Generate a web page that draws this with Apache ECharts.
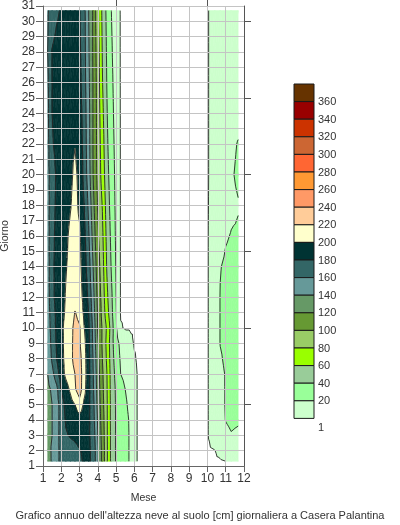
<!DOCTYPE html>
<html>
<head>
<meta charset="utf-8">
<script src="https://cdn.jsdelivr.net/npm/echarts@6/dist/echarts.min.js"></script>
<style>
html, body { margin: 0; padding: 0; background: #fff; }
#chart { width: 400px; height: 525px; }
</style>
</head>
<body>
<div id="chart"></div>
<script>
// grid of snow depth (cm): columns = month position, rows = day of month
var months = [1.26, 1.5, 1.75, 2, 2.25, 2.5, 2.75, 3, 3.25, 3.5, 3.75, 4, 4.25, 4.5, 4.75, 5, 5.25, 5.5, 5.75, 6, 6.15, 6.3, 9.95, 10.1, 10.4, 10.7, 11, 11.3, 11.68];
var days = [1.31, 2, 3, 4, 5, 6, 7, 8, 9, 10, 11, 12, 14, 16, 18, 20, 22, 24, 26, 28, 30.7];
var depth = [
  [130, 142.9, 157.1, 163, 167, 171, 175, 177, 182, 183.5, 174.1, 142.7, 114.4, 82.9, 52.9, 38.2, 31.9, 25.6, 18.7, 7.6, 1, 0, 0, 0, 0, 0, 1, 6, 8],
  [132, 143, 157, 163, 167, 171, 175, 179, 183, 183.5, 174, 143, 114, 83, 53, 38, 32, 25.6, 18.7, 7.6, 1, 0, 0, 0, 0.8, 4, 8, 10, 10],
  [134, 140, 154, 167, 178, 182, 184, 186, 186, 183, 170.5, 140, 111.6, 82.5, 53, 38, 32, 25.6, 18.7, 7.6, 1, 0, 0, 1.6, 7, 12, 16, 19, 17],
  [134, 140, 152.5, 168, 182, 186, 190, 192, 190, 184, 167, 137.6, 109.5, 82.2, 52.4, 38.2, 31.8, 25.4, 18.3, 7.5, 1, 0, 0, 1.6, 8, 14, 20.5, 23, 22],
  [134, 140, 151, 170, 185.7, 193, 200, 212, 196.3, 184.7, 165, 134, 107, 82, 52.4, 38, 30.7, 23.5, 15.3, 6.4, 1, 0, 0, 1.6, 9, 15, 21, 24, 24],
  [136, 142.5, 155, 182, 192, 203, 218.2, 230, 206.7, 185.7, 162.1, 131.8, 105, 81, 51.7, 37.2, 28.6, 20, 12.7, 5.4, 1, 0, 0, 1.6, 9, 15, 21, 24, 24],
  [140, 154, 172, 191, 204, 212, 220, 229.5, 209.2, 186, 160, 129.4, 103, 80, 50.7, 34.3, 20, 14.7, 9.4, 4.2, 1, 0, 0, 1.6, 9, 16, 21, 23, 23],
  [146, 163, 180, 194, 205.5, 214.5, 226.5, 226.8, 208, 185.7, 158.7, 126.3, 100, 76.7, 48.9, 30.7, 17.9, 12.7, 7.5, 2.2, 0, 0, 0, 1.6, 10, 18, 23, 24, 24],
  [148, 165.7, 182.5, 195, 205.7, 215, 225.5, 222.5, 205.7, 184.5, 156, 122.7, 97.6, 74.5, 47.4, 27, 15.7, 10.3, 4.9, 0, 0, 0, 0, 1.6, 10, 20.5, 24, 24, 24],
  [150, 168, 184, 196, 205, 213, 226, 222, 201, 183, 155, 118, 98, 77, 50, 22, 2, 0, 0, 0, 0, 0, 0, 1.6, 10, 20.5, 23, 24, 24],
  [150, 172, 184, 195, 202, 208, 221, 214, 196, 180, 150, 117, 94, 68, 45, 21, 0, 0, 0, 0, 0, 0, 0, 1.6, 10, 20.5, 23, 24, 24],
  [152, 175, 186, 194, 201, 206, 212, 208, 194, 176, 146, 114, 92, 64, 43, 20, 0, 0, 0, 0, 0, 0, 0, 1.6, 10, 20.5, 23, 24, 24],
  [152, 176, 186, 193, 199, 204, 209, 205, 190, 169, 139, 109, 88, 58, 38, 18.5, 0, 0, 0, 0, 0, 0, 0, 1.6, 10, 19.5, 22, 23, 23],
  [153, 175, 185, 191, 197, 203, 208, 203, 186, 162, 132, 103, 84, 54, 35, 17, 0, 0, 0, 0, 0, 0, 0, 1.6, 9, 15, 19, 20.5, 21],
  [154, 172, 184, 189, 194, 199, 206, 196, 180.5, 156, 125, 98, 79, 50, 32, 16, 0, 0, 0, 0, 0, 0, 0, 1.4, 8, 13, 16, 18, 19.5],
  [155, 170, 183, 187, 192, 197, 203, 196, 174, 149, 119, 94, 72, 46, 30, 15, 0, 0, 0, 0, 0, 0, 0, 1.3, 8, 12, 15, 19, 21.5],
  [155, 178, 186, 190, 193, 197, 199.5, 193, 172, 147, 118, 93, 69, 43, 28, 13.5, 0, 0, 0, 0, 0, 0, 0, 1.3, 8, 12, 15, 18, 20.5],
  [156, 180, 187, 191, 193, 196, 198, 190, 170, 146, 118, 92, 65, 41, 26, 12, 0, 0, 0, 0, 0, 0, 0, 1.3, 7, 12, 14, 16, 17],
  [157, 180, 187, 190, 192, 194, 195, 186, 168, 144, 118, 91, 61, 39, 24, 11, 0, 0, 0, 0, 0, 0, 0, 1.3, 7, 11, 13, 14, 14],
  [160, 181, 186, 189, 191, 193, 193, 184, 167, 142, 117, 89, 59, 37.5, 22, 10, 0, 0, 0, 0, 0, 0, 0, 1.3, 6, 10, 12, 13, 13],
  [158, 170, 177, 182, 186, 188, 187, 181, 166, 140, 117, 85, 56, 35, 19.6, 9.3, 0, 0, 0, 0, 0, 0, 0, 1.3, 6, 10, 12, 13, 13]
];
var levels = [1, 20, 40, 60, 80, 100, 120, 140, 160, 180, 200, 220, 240, 260, 280, 300, 320, 340, 360];
var bandColors = ['#CCFFCC', '#99FF99', '#99CC99', '#99FF00', '#99CC66', '#669933', '#669966', '#669999', '#336666', '#003333',
  '#FFFFCC', '#FFCC99', '#FF9966', '#FF9933', '#FF6633', '#CC6633', '#CC3300', '#990000', '#663300'];
var monthTicks = [1, 2, 3, 4, 5, 6, 7, 8, 9, 10, 11, 12];

var font = 'Liberation Sans, Arial, sans-serif';
var chart = echarts.init(document.getElementById('chart'));

var cells = [];
for (var j = 0; j < days.length - 1; j++) {
  for (var i = 0; i < months.length - 1; i++) {
    cells.push([(months[i] + months[i + 1]) / 2, (days[j] + days[j + 1]) / 2, i, j]);
  }
}

// split a grid cell into 4 triangles around its centre (pixel coords + value)
function cellTriangles(api) {
  var i = api.value(2), j = api.value(3);
  var corners = [[i, j], [i + 1, j], [i + 1, j + 1], [i, j + 1]].map(function (c) {
    var p = api.coord([months[c[0]], days[c[1]]]);
    return [p[0], p[1], depth[c[1]][c[0]]];
  });
  var c = [0, 0, 0];
  corners.forEach(function (p) { c[0] += p[0] / 4; c[1] += p[1] / 4; c[2] += p[2] / 4; });
  var tris = [];
  for (var k = 0; k < 4; k++) tris.push([corners[k], corners[(k + 1) % 4], c]);
  return tris;
}

function clip(poly, level, above) {
  var out = [];
  for (var k = 0; k < poly.length; k++) {
    var a = poly[k], b = poly[(k + 1) % poly.length];
    var ina = above ? a[2] >= level : a[2] <= level;
    var inb = above ? b[2] >= level : b[2] <= level;
    if (ina) out.push(a);
    if (ina !== inb) {
      var t = (level - a[2]) / (b[2] - a[2]);
      out.push([a[0] + t * (b[0] - a[0]), a[1] + t * (b[1] - a[1]), level]);
    }
  }
  return out;
}

function renderFill(params, api) {
  var children = [];
  cellTriangles(api).forEach(function (tri) {
    var vs = tri.map(function (p) { return p[2]; });
    var vmin = Math.min.apply(null, vs), vmax = Math.max.apply(null, vs);
    for (var b = 0; b < levels.length; b++) {
      var lo = levels[b], hi = b + 1 < levels.length ? levels[b + 1] : Infinity;
      if (vmax < lo || vmin >= hi) continue;
      var poly = clip(tri, lo, true);
      if (hi !== Infinity) poly = clip(poly, hi, false);
      if (poly.length < 3) continue;
      children.push({
        type: 'polygon',
        shape: { points: poly.map(function (p) { return [p[0], p[1]]; }) },
        style: { fill: bandColors[b], stroke: bandColors[b], lineWidth: 0.6 }
      });
    }
  });
  return { type: 'group', children: children };
}

function renderLines(params, api) {
  var children = [];
  cellTriangles(api).forEach(function (tri) {
    levels.forEach(function (L) {
      var pts = [];
      for (var k = 0; k < 3; k++) {
        var a = tri[k], b = tri[(k + 1) % 3];
        if ((a[2] >= L) !== (b[2] >= L)) {
          var t = (L - a[2]) / (b[2] - a[2]);
          pts.push([a[0] + t * (b[0] - a[0]), a[1] + t * (b[1] - a[1])]);
        }
      }
      if (pts.length === 2) {
        children.push({
          type: 'line',
          shape: { x1: pts[0][0], y1: pts[0][1], x2: pts[1][0], y2: pts[1][1] },
          style: { stroke: '#262626', lineWidth: 0.9 }
        });
      }
    });
  });
  return { type: 'group', children: children };
}

// legend: swatches top (highest) to bottom, labels on the boundaries
var legendX = 294, legendTop = 84, swatchW = 20, swatchH = 17.6;
var legend = [];
for (var n = 0; n < bandColors.length; n++) {
  legend.push({
    type: 'rect',
    shape: { x: legendX, y: legendTop + n * swatchH, width: swatchW, height: swatchH },
    style: { fill: bandColors[bandColors.length - 1 - n], stroke: '#1a1a1a', lineWidth: 1 }
  });
}
for (var m = 0; m < levels.length; m++) {
  var lv = levels[levels.length - 1 - m];
  var y = legendTop + (m + 1) * swatchH + (m === levels.length - 1 ? 9.5 : 0.5);
  legend.push({
    type: 'text',
    x: legendX + swatchW + 4, y: y,
    style: { text: String(lv), font: '11px ' + font, fill: '#333', verticalAlign: 'middle' }
  });
}

var option = {
  animation: false,
  backgroundColor: '#fff',
  title: {
    text: "Grafico annuo dell'altezza neve al suolo [cm] giornaliera a Casera Palantina",
    left: 'center', top: 505,
    textStyle: { fontSize: 11, fontWeight: 'normal', color: '#333', fontFamily: font }
  },
  grid: { left: 43, right: 156, top: 6, bottom: 59, outerBoundsMode: 'none' },
  xAxis: [{
    type: 'value', min: 1, max: 12, interval: 1, position: 'bottom', z: 10,
    name: 'Mese', nameLocation: 'middle', nameGap: 27,
    nameTextStyle: { fontSize: 10.5, color: '#333', fontFamily: font },
    axisLine: { show: true, lineStyle: { color: '#666' } },
    axisTick: { show: true, length: 6, lineStyle: { color: '#666' } },
    axisLabel: { fontSize: 12, color: '#333', fontFamily: font, margin: 7,
      formatter: function (v) { return monthTicks.indexOf(v) >= 0 ? String(v) : ''; } },
    splitLine: { show: true, lineStyle: { color: '#c4c4c4', width: 1 } }
  }, {
    type: 'value', min: 1, max: 12, position: 'top', z: 10,
    axisLine: { show: false },
    axisTick: { show: true, length: 6, customValues: [5, 10], lineStyle: { color: '#555' } },
    axisLabel: { show: false },
    splitLine: { show: false }
  }],
  yAxis: [{
    type: 'value', min: 1, max: 31, interval: 1, position: 'left', z: 10,
    name: 'Giorno', nameLocation: 'middle', nameGap: 26, nameRotate: 90,
    nameTextStyle: { fontSize: 10.5, color: '#333', fontFamily: font },
    axisLine: { show: true, lineStyle: { color: '#666' } },
    axisTick: { show: true, length: 7, lineStyle: { color: '#666' } },
    axisLabel: { fontSize: 12, color: '#333', fontFamily: font, margin: 8 },
    splitLine: { show: true, lineStyle: { color: '#c4c4c4', width: 1 } }
  }, {
    type: 'value', min: 1, max: 31, position: 'right', z: 10,
    axisLine: { show: true, lineStyle: { color: '#555' } },
    axisTick: { show: true, length: 7, customValues: [5, 10, 15, 20, 25, 30], lineStyle: { color: '#555' } },
    axisLabel: { show: false },
    splitLine: { show: false }
  }],
  graphic: legend,
  series: [{
    type: 'custom', z: 2, xAxisIndex: 0, yAxisIndex: 0,
    renderItem: renderFill, data: cells, silent: true
  }, {
    type: 'custom', z: 3, xAxisIndex: 0, yAxisIndex: 0,
    renderItem: renderLines, data: cells, silent: true
  }]
};

chart.setOption(option);
</script>
</body>
</html>
